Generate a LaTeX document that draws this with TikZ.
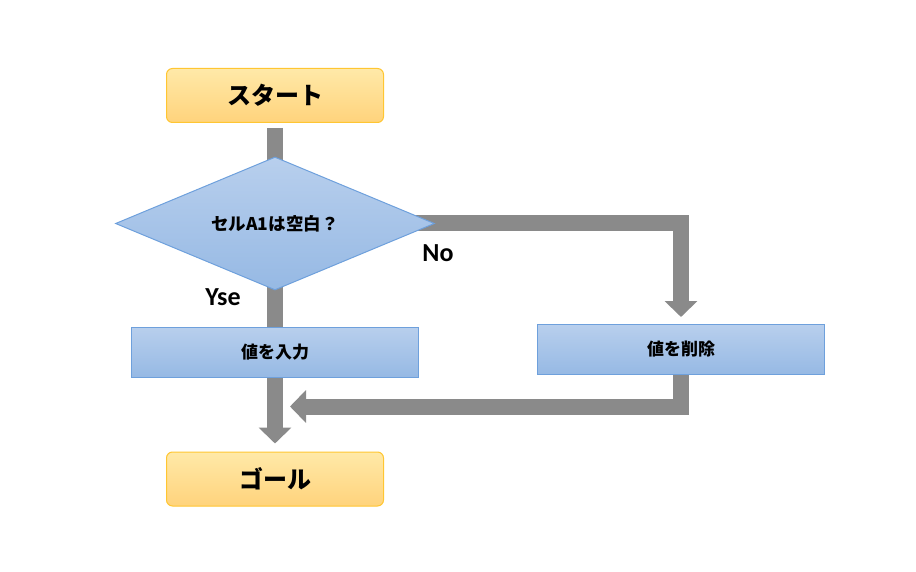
\documentclass[tikz,border=0pt]{standalone}
\usepackage{fontspec}
\setmainfont{Carlito}
\newfontfamily\jpfont{Noto Sans CJK JP}
\usetikzlibrary{shapes.geometric,arrows.meta,backgrounds}

\definecolor{termtop}{RGB}{255,233,168}
\definecolor{termbot}{RGB}{255,211,124}
\definecolor{termline}{RGB}{255,198,50}
\definecolor{proctop}{RGB}{184,207,237}
\definecolor{procbot}{RGB}{150,185,228}
\definecolor{procline}{RGB}{110,160,220}
\definecolor{flowgray}{RGB}{138,138,138}

\tikzset{
        term/.style={draw=termline, line width=1pt, rounded corners=6pt,
                top color=termtop, bottom color=termbot,
                minimum width=217pt, minimum height=54pt, inner sep=0pt,
                font=\jpfont\bfseries\fontsize{24}{28}\selectfont},
        proc/.style={draw=procline, line width=1pt,
                top color=proctop, bottom color=procbot,
                minimum width=287pt, minimum height=50pt, inner sep=0pt,
                font=\jpfont\bfseries\fontsize{17}{20}\selectfont},
        decision/.style={diamond, aspect=2.4, draw=procline, line width=1pt,
                top color=proctop, bottom color=procbot,
                minimum width=319pt, minimum height=133pt, inner sep=0pt,
                font=\jpfont\bfseries\fontsize{17.5}{20}\selectfont},
        flow/.style={draw=flowgray, line width=16pt, line join=miter,
                -{Triangle[width=32pt,length=16pt]}},
        bar/.style={draw=flowgray, line width=16pt},
        answer/.style={font=\bfseries\fontsize{26}{30}\selectfont}
}

\begin{document}
\begin{tikzpicture}[x=1pt, y=-1pt]
        \useasboundingbox (0,0) rectangle (916,572);

        % Flowchart nodes
        \node[term] (start) at (275,95.5) {スタート};
        \node[decision] (check) at (275,223.5) {セルA1は空白？};
        \node[proc] (input) at (275,352) {値を入力};
        \node[proc] (delete) at (681,349.5) {値を削除};
        \node[term] (goal) at (275,479) {ゴール};
        \coordinate (merge) at (290,406.5);

        % Branch labels
        \node[answer] (no) at (438,253) {No};
        \node[answer] (yes) at (223,297) {Yse};

        % Connectors behind the shapes
        \begin{scope}[on background layer]
                \draw[bar, shorten <=5pt] (start.south) -- (check.center);
                \draw[bar] (check.center) -- (input.center);
                \draw[flow, shorten >=7pt] (check.center) -| (delete.north);
                \draw[flow, shorten >=8pt] (input.south) -- (goal.north);
                \draw[flow] (delete.south) |- (merge);
        \end{scope}
\end{tikzpicture}
\end{document}
